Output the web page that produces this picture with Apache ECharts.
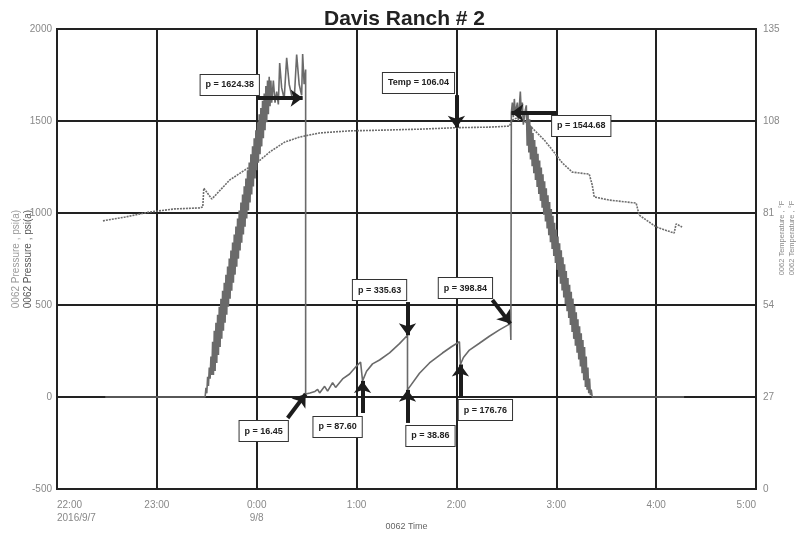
<!DOCTYPE html>
<html>
<head>
<meta charset="utf-8">
<script src="https://cdn.jsdelivr.net/npm/echarts@6/dist/echarts.min.js"></script>
<style>
  html, body { margin: 0; padding: 0; background: #fff; }
  #chart { width: 809px; height: 539px; }
</style>
</head>
<body>
<div id="chart"></div>
<script>
// x = minutes after 2016/9/7 22:00
const timeTicks = ['22:00\n2016/9/7', '23:00', '0:00\n9/8', '1:00', '2:00', '3:00', '4:00', '5:00'];

// 0062 Pressure, psi(a)  [minute, psi]
const pressurePts = [
  [29, 0], [89, 0],
  [89.5, 50], [90, 20], [90.5, 110], [91, 60], [91.5, 160], [92, 100], [92.5, 220], [93, 120],
  [93.5, 300], [94, 120], [94.5, 360], [95, 142], [95.5, 403], [96, 185], [96.5, 447], [97, 229],
  [97.5, 491], [98, 272], [98.5, 534], [99, 316], [99.5, 578], [100, 360], [100.5, 621], [101, 403],
  [101.5, 665], [102, 447], [102.5, 709], [103, 490], [103.5, 752], [104, 534], [104.5, 796],
  [105, 578], [105.5, 839], [106, 621], [106.5, 883], [107, 665], [107.5, 927], [108, 708],
  [108.5, 970], [109, 752], [109.5, 1014], [110, 796], [110.5, 1057], [111, 839], [111.5, 1101],
  [112, 883], [112.5, 1145], [113, 926], [113.5, 1188], [114, 970], [114.5, 1232], [115, 1014],
  [115.5, 1275], [116, 1057], [116.5, 1319], [117, 1101], [117.5, 1363], [118, 1144],
  [118.5, 1406], [119, 1188], [119.5, 1450], [120, 1232], [120.5, 1493], [121, 1275],
  [121.5, 1537], [122, 1319], [122.5, 1570], [123, 1362], [123.5, 1610], [124, 1406],
  [124.5, 1650], [125, 1450], [125.5, 1690], [126, 1493], [126.5, 1720], [127, 1537],
  [127.5, 1740], [128, 1580], [128.5, 1720], [129, 1600],
  [130, 1720], [131, 1600], [132, 1660], [133, 1590], [133.8, 1815],
  [135, 1680], [136.5, 1620], [138, 1843], [139.5, 1700], [141, 1640], [142.5, 1610], [144, 1861],
  [145.5, 1700], [147, 1640], [147.6, 1864], [148.5, 1700], [149.4, 1780], [149.4, 16.45],
  [152, 22], [155, 30], [156.6, 42], [157.8, 22], [160.8, 58], [162.6, 32], [165.6, 78],
  [167.4, 52], [171.6, 98], [175.8, 125], [180, 168], [182.4, 190], [183.6, 87.6],
  [186, 140], [189.6, 180], [193.8, 201], [199.8, 240], [205.8, 290], [210.6, 335.63],
  [210.6, 38.86], [217.8, 129], [223.8, 185], [231.6, 239], [237, 273], [241.8, 300],
  [242.4, 176.76], [244.2, 215], [247.8, 255], [253.8, 292], [259.8, 330], [265.8, 365],
  [272.4, 398.84], [272.7, 310], [273, 1544.68],
  [273.6, 1600], [274.2, 1520], [274.8, 1620], [275.4, 1540], [276.6, 1600], [277.2, 1500],
  [278.4, 1660], [279, 1540], [279.6, 1600], [280.2, 1480], [281.4, 1560],
  [282, 1585], [282.5, 1366], [283, 1547], [283.5, 1329], [284, 1510], [284.5, 1291],
  [285, 1472], [285.5, 1254], [286, 1435], [286.5, 1216], [287, 1397], [287.5, 1179],
  [288, 1360], [288.5, 1141], [289, 1322], [289.5, 1104], [290, 1285], [290.5, 1066],
  [291, 1247], [291.5, 1029], [292, 1210], [292.5, 991], [293, 1172], [293.5, 954],
  [294, 1135], [294.5, 916], [295, 1097], [295.5, 879], [296, 1060], [296.5, 841],
  [297, 1022], [297.5, 804], [298, 985], [298.5, 766], [299, 947], [299.5, 729],
  [300, 910], [300.5, 691], [301, 872], [301.5, 654], [302, 835], [302.5, 616],
  [303, 797], [303.5, 579], [304, 760], [304.5, 541], [305, 722], [305.5, 504],
  [306, 685], [306.5, 466], [307, 647], [307.5, 429], [308, 610], [308.5, 391],
  [309, 572], [309.5, 354], [310, 535], [310.5, 316], [311, 497], [311.5, 279],
  [312, 460], [312.5, 241], [313, 422], [313.5, 204], [314, 385], [314.5, 166],
  [315, 347], [315.5, 129], [316, 310], [316.5, 91], [317, 272], [317.5, 54],
  [318, 220], [318.5, 40], [319, 160], [319.5, 20], [320, 100], [320.5, 10],
  [321, 40], [321.6, 0], [376.8, 0]
];

// 0062 Temperature, °F  [minute, °F]
const tempPts = [
  [27.6, 78.7], [40.8, 79.8], [55.8, 81.3], [70.8, 82.2], [85.8, 82.5], [87.6, 82.8],
  [88.2, 88.3], [93, 85.1], [94.8, 86.0], [103.8, 90.7], [112.8, 93.6], [120, 95.7],
  [127.8, 98.9], [136.8, 101.8], [145.8, 103.3], [157.8, 104.5], [175.8, 105.1],
  [193.8, 105.3], [217.8, 105.6], [240, 106.04], [259.8, 106.2], [271.8, 106.5],
  [273.6, 108.3], [277.8, 109.2], [283.8, 106.8], [292.8, 102.4], [297.6, 99.5],
  [303.6, 95.7], [309.6, 93.0], [319.8, 92.4], [321.6, 89.2], [322.8, 85.7], [331.8, 84.8],
  [348, 83.9], [349.8, 80.4], [360, 76.9], [370.8, 75.1], [372, 77.8], [375.6, 76.9]
];

// 注释框 [text, minute, psi]
const noteBoxes = [
  ['p = 1624.38', 103.8, 1696],
  ['Temp = 106.04', 217.2, 1707],
  ['p = 1544.68', 315, 1473],
  ['p = 335.63', 193.8, 581],
  ['p = 398.84', 245.4, 592],
  ['p = 16.45', 124.2, -185],
  ['p = 87.60', 168.6, -163],
  ['p = 38.86', 224.4, -212],
  ['p = 176.76', 257.4, -71]
];
// 压力箭头 [fromMin, fromPsi, toMin, toPsi]
const pressureArrows = [
  [120.6, 1625, 147.6, 1624.38],
  [300, 1544.68, 273, 1544.68],
  [210.6, 516, 210.6, 335.63],
  [261.6, 527, 272.4, 398.84],
  [138.6, -114, 149.4, 16.45],
  [183.6, -87, 183.6, 87.6],
  [210.6, -141, 210.6, 38.86],
  [242.4, -5, 242.4, 176.76]
];
// 温度箭头 [fromMin, fromF, toMin, toF]
const tempArrows = [
  [240, 115.6, 240, 106.04]
];

const FONT = 'Liberation Sans';
const arrowStyle = {
  silent: true,
  symbol: ['none', 'arrow'],
  symbolSize: [13, 12],
  lineStyle: { color: '#1c1c1c', width: 4, type: 'solid' },
  label: { show: false },
  emphasis: { disabled: true }
};
const toLines = arr => arr.map(a => [{ coord: [a[0], a[1]] }, { coord: [a[2], a[3]] }]);

const chart = echarts.init(document.getElementById('chart'));
chart.setOption({
  animation: false,
  textStyle: { fontFamily: FONT },
  title: {
    text: 'Davis Ranch # 2',
    left: 'center',
    top: 4,
    textStyle: { fontFamily: FONT, fontSize: 21, fontWeight: 'bold', color: '#222' }
  },
  grid: {
    left: 57, right: 53, top: 29, bottom: 50,
    containLabel: false, outerBoundsMode: 'none',
    show: true, borderColor: '#222', borderWidth: 2
  },
  xAxis: {
    type: 'value', min: 0, max: 420, interval: 60,
    name: '0062 Time', nameLocation: 'middle', nameGap: 33, nameMoveOverlap: false,
    nameTextStyle: { color: '#666', fontSize: 9, fontFamily: FONT },
    axisLine: { lineStyle: { color: '#222', width: 2 } },
    axisTick: { show: false },
    axisLabel: {
      color: '#888', fontSize: 10, lineHeight: 13, margin: 10,
      alignMinLabel: 'left', alignMaxLabel: 'right',
      formatter: v => timeTicks[Math.round(v / 60)] || ''
    },
    splitLine: { show: true, lineStyle: { color: '#222', width: 2 } }
  },
  yAxis: [
    {
      type: 'value', min: -500, max: 2000, interval: 500,
      name: '{a|0062 Pressure , psi(a)}\n{b|0062 Pressure , psi(a)}',
      nameLocation: 'middle', nameGap: 23, nameMoveOverlap: false,
      nameTextStyle: {
        fontFamily: FONT, lineHeight: 12,
        rich: { a: { color: '#999', fontSize: 10 }, b: { color: '#555', fontSize: 10 } }
      },
      axisLine: { show: true, lineStyle: { color: '#222', width: 2 } },
      axisTick: { show: false },
      axisLabel: { color: '#888', fontSize: 10, margin: 5, formatter: v => String(v) },
      splitLine: { show: true, lineStyle: { color: '#222', width: 2 } }
    },
    {
      type: 'value', min: 0, max: 135, interval: 27, position: 'right',
      name: '{a|0062 Temperature , °F}\n{a|0062 Temperature , °F}',
      nameLocation: 'middle', nameGap: 21, nameMoveOverlap: false,
      nameTextStyle: {
        fontFamily: FONT, lineHeight: 10, padding: [0, 0, 0, 42],
        rich: { a: { color: '#888', fontSize: 7.5 } }
      },
      axisLine: { show: true, lineStyle: { color: '#222', width: 2 } },
      axisTick: { show: false },
      axisLabel: { color: '#888', fontSize: 10, margin: 7, formatter: v => String(v) },
      splitLine: { show: false }
    }
  ],
  series: [
    {
      name: 'Temperature',
      type: 'line',
      yAxisIndex: 1,
      data: tempPts,
      symbol: 'none',
      lineStyle: { color: '#6e6e6e', width: 1.6, type: [2, 1] },
      z: 3,
      markLine: Object.assign({ data: toLines(tempArrows) }, arrowStyle)
    },
    {
      name: 'Pressure',
      type: 'line',
      yAxisIndex: 0,
      data: pressurePts,
      symbol: 'none',
      lineStyle: { color: '#6a6a6a', width: 1.6 },
      z: 4,
      markLine: Object.assign({ data: toLines(pressureArrows) }, arrowStyle),
      markPoint: {
        silent: true,
        symbol: 'rect',
        symbolSize: 1,
        itemStyle: { color: 'rgba(0,0,0,0)' },
        label: {
          show: true, position: 'inside', formatter: '{b}',
          fontFamily: FONT, fontSize: 9, fontWeight: 'bold', color: '#222',
          backgroundColor: '#fff', borderColor: '#333', borderWidth: 1,
          padding: [6, 5, 5, 5]
        },
        data: noteBoxes.map(b => ({ name: b[0], coord: [b[1], b[2]] }))
      }
    }
  ]
});
</script>
</body>
</html>
